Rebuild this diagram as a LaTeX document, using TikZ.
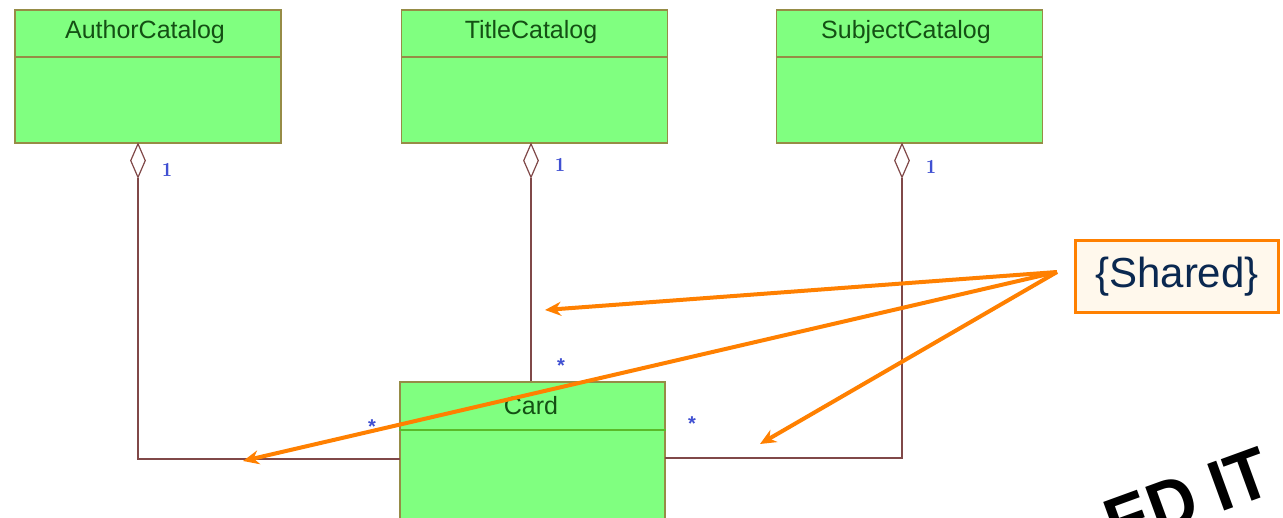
\documentclass[tikz,border=0pt]{standalone}
\usepackage{fontspec}
\setmainfont{Liberation Sans}
\usetikzlibrary{shapes.geometric,arrows.meta}
\definecolor{clsfill}{RGB}{128,255,128}
\definecolor{clsborder}{RGB}{150,140,70}
\definecolor{clstext}{RGB}{20,80,20}
\definecolor{assoc}{RGB}{128,72,72}
\definecolor{multblue}{RGB}{64,80,210}
\definecolor{hlorange}{RGB}{255,128,0}
\definecolor{notefill}{RGB}{255,248,236}
\definecolor{notetext}{RGB}{10,40,80}
\begin{document}
\begin{tikzpicture}[x=1pt,y=-1pt,
  clsbox/.style={draw=clsborder,fill=clsfill,line width=1.2pt,minimum width=266pt,minimum height=133pt,inner sep=0pt},
  clsname/.style={text=clstext,font=\fontsize{25}{27}\selectfont,inner sep=0pt},
  divider/.style={draw=clsborder,line width=1.2pt},
  aggr/.style={diamond,draw=assoc,fill=white,line width=1.2pt,minimum width=15pt,minimum height=34pt,inner sep=0pt},
  assocline/.style={draw=assoc,line width=1.2pt},
  mult/.style={text=multblue,font=\fontfamily{lmr}\bfseries\fontsize{20}{20}\selectfont,inner sep=0pt},
  multstar/.style={text=multblue,font=\bfseries\fontsize{20}{20}\selectfont,inner sep=0pt},
  hlarrow/.style={draw=hlorange,line width=4pt,-{Stealth[length=16pt,width=14pt]}},
  notebox/.style={draw=hlorange,fill=notefill,line width=3pt,minimum width=203pt,minimum height=72pt,inner sep=0pt,text=notetext,font=\fontsize{42}{46}\selectfont},
  stampstyle/.style={inner sep=0pt,font=\bfseries\fontsize{72}{72}\selectfont}
]
\useasboundingbox (0,0) rectangle (1283,518);
\clip (0,0) rectangle (1283,518);
\fill[white] (0,0) rectangle (1283,518);

% class boxes
\node[clsbox] (author) at (148,76.5) {};
\node[clsbox] (title) at (534.5,76.5) {};
\node[clsbox] (subject) at (909.5,76.5) {};
\node[clsbox,minimum width=265pt,minimum height=140pt] (card) at (532.5,452) {};
\draw[divider] (author.west |- 0,57) -- (author.east |- 0,57);
\draw[divider] (title.west |- 0,57) -- (title.east |- 0,57);
\draw[divider] (subject.west |- 0,57) -- (subject.east |- 0,57);
\draw[divider,draw=clsborder!60!green] (card.west |- 0,430) -- (card.east |- 0,430);
\node[clsname] (authorname) at (145,32) {AuthorCatalog};
\node[clsname] (titlename) at (531,32) {TitleCatalog};
\node[clsname] (subjectname) at (906,32) {SubjectCatalog};
\node[clsname] (cardname) at (531,406) {Card};

% aggregation diamonds
\node[aggr,anchor=north] (dA) at (138,143) {};
\node[aggr,anchor=north] (dT) at (531,143) {};
\node[aggr,anchor=north] (dS) at (902,143) {};

\coordinate (cardL) at (400,459);
\coordinate (cardR) at (665,458);
\draw[assocline] (dA.south) |- (cardL);
\draw[assocline] (dT.south) -- (dT.south |- card.north);
\draw[assocline] (dS.south) |- (cardR);

% multiplicities
\node[mult] (mA) at (167,170) {1};
\node[mult] (mT) at (560,165) {1};
\node[mult] (mS) at (931,167) {1};
\node[multstar] (sT) at (561,366) {*};
\node[multstar] (sA) at (372,427) {*};
\node[multstar] (sS) at (692,424) {*};

% note and arrows
\node[notebox] (shared) at (1177,277) {\{Shared\}};
\coordinate (src) at (1057,272);
\coordinate (tT) at (545,310);
\coordinate (tA) at (243,461);
\coordinate (tS) at (760,444);
\draw[hlarrow] (src) -- (tT);
\draw[hlarrow] (src) -- (tA);
\draw[hlarrow] (src) -- (tS);

% stamp (only its top shows)
\node[stampstyle,anchor=north east,rotate=20,xscale=0.92] (stamp) at (1259,446) {ED IT};
\end{tikzpicture}
\end{document}
